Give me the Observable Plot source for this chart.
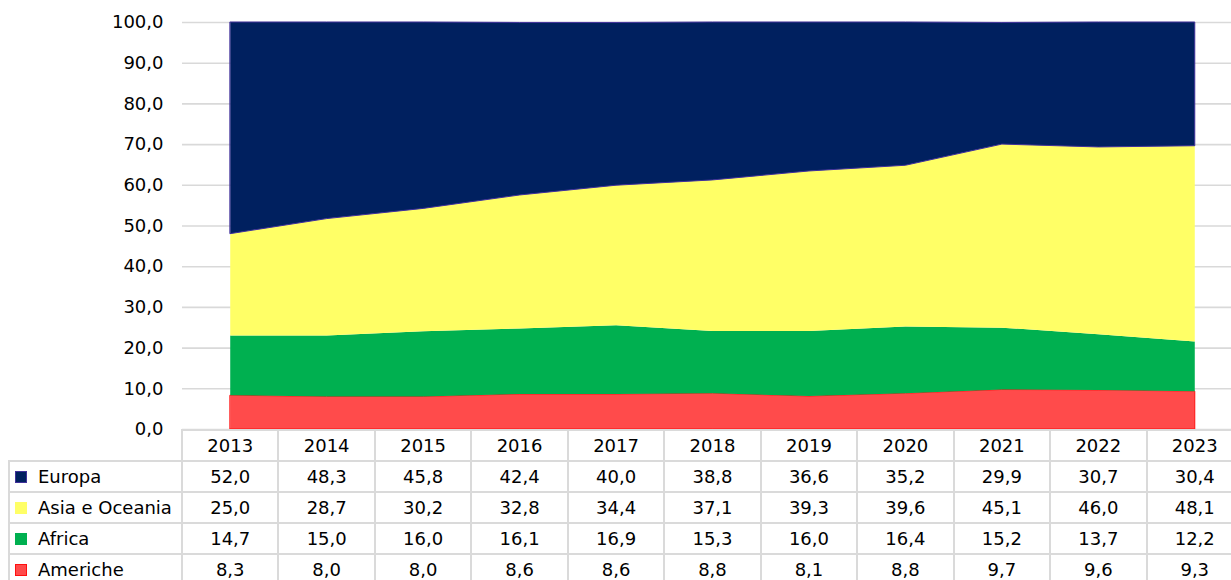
<!DOCTYPE html>
<html><head><meta charset="utf-8">
<script src="https://cdn.jsdelivr.net/npm/d3@7"></script>
<script src="https://cdn.jsdelivr.net/npm/@observablehq/plot@0.6"></script>
<style>
html,body{margin:0;padding:0;background:#fff;overflow:hidden;}
#wrap{position:relative;width:1231px;height:580px;overflow:hidden;font-family:"DejaVu Sans",sans-serif;font-size:18px;color:#000;}
#wrap svg{position:absolute;left:0;top:0;}
.ln{position:absolute;background:#dadada;}
.tx{position:absolute;text-align:center;line-height:31px;height:31px;white-space:nowrap;}
.lb{position:absolute;text-align:left;line-height:31px;height:31px;white-space:nowrap;}
.sw{position:absolute;box-sizing:border-box;width:12px;height:12px;}
</style></head><body><div id="wrap"></div>
<script>
const years = [2013, 2014, 2015, 2016, 2017, 2018, 2019, 2020, 2021, 2022, 2023];
const regions = ["Europa", "Asia e Oceania", "Africa", "Americhe"];
const europa   = [52.0, 48.3, 45.8, 42.4, 40.0, 38.8, 36.6, 35.2, 29.9, 30.7, 30.4];
const asia     = [25.0, 28.7, 30.2, 32.8, 34.4, 37.1, 39.3, 39.6, 45.1, 46.0, 48.1];
const africa   = [14.7, 15.0, 16.0, 16.1, 16.9, 15.3, 16.0, 16.4, 15.2, 13.7, 12.2];
const americhe = [8.3, 8.0, 8.0, 8.6, 8.6, 8.8, 8.1, 8.8, 9.7, 9.6, 9.3];
const yTicks = [0, 10, 20, 30, 40, 50, 60, 70, 80, 90, 100];

const seriesValues = {"Europa": europa, "Asia e Oceania": asia, "Africa": africa, "Americhe": americhe};
const fills = {"Europa": "#00205f", "Asia e Oceania": "#ffff66", "Africa": "#00b050", "Americhe": "#ff4b4b"};
const strokes = {"Europa": "#40309a", "Asia e Oceania": "none", "Africa": "none", "Americhe": "#ff1010"};
const stackOrder = ["Americhe", "Africa", "Asia e Oceania", "Europa"];

const fmt = v => v.toFixed(1).replace(".", ",");

// stacked rows
const rows = [];
years.forEach((yr, i) => {
  let base = 0;
  for (const reg of stackOrder) {
    const v = seriesValues[reg][i];
    rows.push({year: yr, region: reg, y1: base, y2: base + v});
    base += v;
  }
});

const chart = Plot.plot({
  width: 1231,
  height: 430,
  marginTop: 22,
  marginBottom: 1,
  marginLeft: 182,
  marginRight: 0,
  style: {fontFamily: "DejaVu Sans", fontSize: "18px", color: "#000", background: "transparent", overflow: "visible"},
  x: {type: "linear", domain: [2012.5, 2023.5], range: [182, 1243], axis: null},
  y: {domain: [0, 100]},
  marks: [
    Plot.gridY(yTicks, {stroke: "#d9d9d9", strokeOpacity: 1, strokeWidth: 1.6}),
    ...stackOrder.map(reg => Plot.areaY(rows.filter(r => r.region === reg), {
      x: "year", y1: "y1", y2: "y2", fill: fills[reg], stroke: strokes[reg], strokeWidth: 1
    })),
    Plot.axisY(yTicks, {tickSize: 0, tickPadding: 19, tickFormat: fmt, fontSize: 18, fill: "#000"})
  ]
});

const wrap = document.getElementById("wrap");
wrap.appendChild(chart);

const xs = chart.scale("x");
const ys = chart.scale("y");
const top0 = Math.round(ys.apply(0));
const rowH = 31;
const tableLeft = 8;
const lw = 2;
const edges = years.map(y => xs.apply(y - 0.5)).concat([xs.apply(years[years.length - 1] + 0.5)]);
const firstEdge = edges[0];
const rightEdge = edges[edges.length - 1];

function add(cls, css, text) {
  const d = document.createElement("div");
  d.className = cls;
  Object.assign(d.style, css);
  if (text != null) d.textContent = text;
  wrap.appendChild(d);
  return d;
}

// horizontal lines
add("ln", {left: (firstEdge - 1) + "px", top: top0 + "px", width: (rightEdge - firstEdge) + "px", height: lw + "px"});
for (let r = 1; r <= 5; r++) {
  add("ln", {left: tableLeft + "px", top: (top0 + r * rowH) + "px", width: (rightEdge - tableLeft) + "px", height: lw + "px"});
}
// vertical lines
add("ln", {left: tableLeft + "px", top: (top0 + rowH) + "px", width: lw + "px", height: (5 * rowH) + "px"});
edges.forEach(e => add("ln", {left: Math.round(e - 1) + "px", top: top0 + "px", width: lw + "px", height: (6 * rowH) + "px"}));

// header
years.forEach((yr, i) => {
  add("tx", {left: edges[i] + "px", top: (top0 + 1) + "px", width: (edges[i + 1] - edges[i]) + "px"}, String(yr));
});
// body
regions.forEach((reg, r) => {
  const t = top0 + (r + 1) * rowH + 1;
  add("sw", {left: "15px", top: (t + 10) + "px", background: fills[reg],
    border: strokes[reg] === "none" ? "none" : "1px solid " + strokes[reg]});
  add("lb", {left: "38px", top: t + "px"}, reg);
  seriesValues[reg].forEach((v, i) => {
    add("tx", {left: edges[i] + "px", top: t + "px", width: (edges[i + 1] - edges[i]) + "px"}, fmt(v));
  });
});
</script>
</body></html>
